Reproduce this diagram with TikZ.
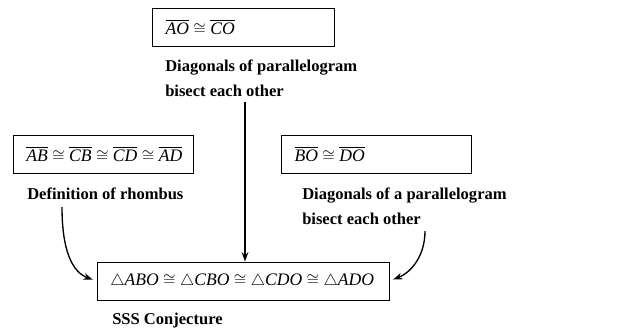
\documentclass[tikz,border=0pt]{standalone}
\usepackage{amsmath, amssymb}
\usepackage{fontspec}
\setmainfont{Liberation Serif}
\usepackage{tikz}
\usetikzlibrary{arrows.meta, positioning}

\begin{document}
\begin{tikzpicture}[x=0.75pt, y=-0.75pt,
    stmt/.style={draw, line width=0.7pt, inner xsep=10pt, align=left, minimum height=28.5pt, font=\fontsize{13.2}{15}\selectfont},
    reason/.style={anchor=north west, inner sep=0pt, align=left, font=\fontsize{12.4}{18.75}\selectfont\bfseries},
    link/.style={-{Stealth[length=7pt, width=5pt]}, line width=1pt}]
\useasboundingbox (0,0) rectangle (635,330);
% statements
\node[stmt, text width=117pt] (aoco) at (243.5,27) {\mbox{$\overline{\mathit{AO}}\cong\overline{\mathit{CO}}$}};
\node[stmt, text width=115pt] (sides) at (103,154) {\mbox{$\overline{\mathit{AB}}\cong\overline{\mathit{CB}}\cong\overline{\mathit{CD}}\cong\overline{\mathit{AD}}$}};
\node[stmt, text width=123pt] (bodo) at (376.5,154) {\mbox{$\overline{\mathit{BO}}\cong\overline{\mathit{DO}}$}};
\node[stmt, text width=199pt] (sss) at (243,281) {\mbox{$\triangle\mathit{ABO}\cong\triangle\mathit{CBO}\cong\triangle\mathit{CDO}\cong\triangle\mathit{ADO}$}};
% reasons
\node[reason] (diag1) at (165,60) {Diagonals of parallelogram\\bisect each other};
\node[reason] (rhomb) at (27,188) {Definition of rhombus};
\node[reason] (diag2) at (302,188) {Diagonals of a parallelogram\\bisect each other};
\node[reason] (conj) at (112,313) {SSS Conjecture};
% arrows
\coordinate (v1) at (245,102);
\coordinate (c1) at (62,207);
\coordinate (c2) at (425,231);
\draw[link] (v1) -- (v1 |- sss.north);
\draw[link, shorten >=3pt] (c1) .. controls (62,250) and (72,272) .. (sss.west);
\draw[link, shorten >=3pt] (c2) .. controls (425,255) and (412,272) .. (sss.east);
\end{tikzpicture}
\end{document}
